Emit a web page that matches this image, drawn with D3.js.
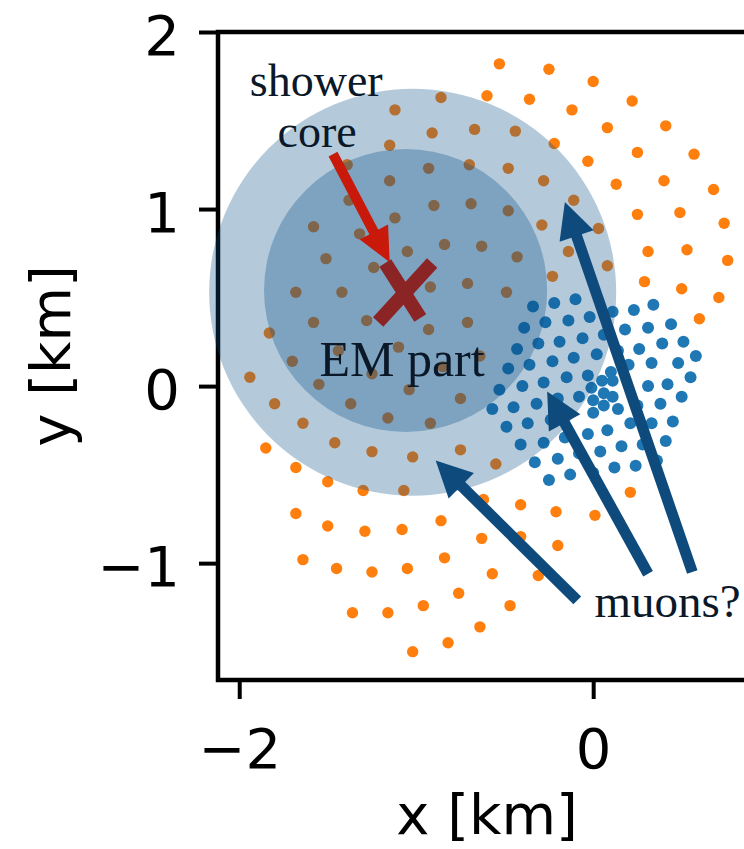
<!DOCTYPE html>
<html>
<head>
<meta charset="utf-8">
<script src="https://cdn.jsdelivr.net/npm/d3@7"></script>
<style>
  html, body { margin: 0; padding: 0; background: #fff; }
  svg { display: block; }
</style>
</head>
<body>
<svg id="chart"></svg>
<script>
// orange stations (x, y in km)
const orangeX = [-0.53,-0.25,0.00,-0.60,-0.86,-0.36,0.22,-1.12,-0.12,-0.67,-0.91,-0.44,0.08,0.41,-1.15,-0.22,0.25,0.57,-1.39,-0.93,-0.70,-0.48,-0.03,-1.15,-0.28,0.13,0.40,0.68,-1.38,-0.90,-0.69,-0.48,-0.11,-1.12,0.25,0.49,0.74,-1.58,-1.32,-0.29,0.03,-0.84,-0.63,-1.05,-0.43,-0.14,0.31,0.53,0.76,-1.51,-1.24,-0.71,-0.49,-0.23,0.08,0.29,0.50,0.71,0.60,-1.68,-1.42,-0.92,-1.58,-1.28,-0.93,-0.71,-1.83,-1.70,-1.44,-1.10,-0.85,-0.64,-1.94,-1.55,-1.25,-1.04,-0.75,-1.80,-1.37,-1.16,-0.92,-1.64,-1.85,-1.46,-1.25,-1.02,-0.75,-0.55,-1.68,-1.50,-1.30,-1.07,-0.62,-0.41,-1.68,-1.50,-1.29,-1.08,-0.86,-0.63,-0.41,-1.64,-1.45,-1.25,-1.05,-0.84,-0.57,-0.31,-1.36,-1.16,-0.96,-0.76,-0.47,-0.64,-0.82,-1.02,0.21,0.01,-0.21,-0.20];
const orangeY = [1.82,1.79,1.72,1.64,1.63,1.62,1.61,1.56,1.56,1.45,1.43,1.44,1.46,1.47,1.36,1.37,1.32,1.31,1.25,1.23,1.25,1.23,1.27,1.16,1.16,1.14,1.16,1.11,1.05,1.02,1.03,0.99,1.05,0.95,0.97,0.98,0.92,0.90,0.86,0.91,0.89,0.80,0.79,0.76,0.73,0.76,0.76,0.77,0.71,0.72,0.67,0.58,0.53,0.62,0.68,0.59,0.55,0.50,0.38,0.53,0.53,0.56,0.36,0.37,0.32,0.36,0.30,0.14,0.20,0.22,0.11,0.17,0.05,0.01,0.07,-0.02,-0.07,-0.10,-0.10,-0.18,-0.21,-0.21,-0.35,-0.32,-0.37,-0.40,-0.36,-0.44,-0.46,-0.54,-0.59,-0.59,-0.64,-0.67,-0.72,-0.79,-0.82,-0.81,-0.76,-0.86,-0.85,-0.98,-1.03,-1.05,-1.03,-0.97,-1.06,-1.07,-1.28,-1.28,-1.24,-1.17,-1.24,-1.36,-1.45,-1.50,-0.60,-0.73,-0.71,-0.90];

// blue stations (x, y in km)
const blueX = [-0.34,-0.22,-0.10,0.11,0.23,0.34,-0.02,-0.14,-0.27,-0.39,0.18,0.31,0.44,0.06,-0.06,-0.19,-0.31,-0.43,0.51,0.39,0.26,0.14,0.02,-0.11,-0.23,-0.36,-0.48,0.58,0.48,0.33,0.20,0.10,-0.03,-0.15,-0.28,-0.40,-0.53,0.55,0.42,0.31,0.05,0.11,-0.01,0.06,0.11,0.00,0.06,0.14,0.00,-0.08,-0.20,-0.32,-0.45,-0.57,0.50,0.38,0.25,0.45,0.33,0.21,0.08,-0.03,-0.16,-0.28,-0.37,-0.49,-0.24,0.41,0.28,0.16,0.04,-0.08,-0.20,-0.41,0.36,0.24,0.12,0.00,-0.13,-0.25,-0.33];
const blueY = [0.45,0.47,0.49,0.42,0.43,0.46,0.39,0.37,0.36,0.33,0.32,0.33,0.35,0.29,0.27,0.25,0.24,0.21,0.25,0.24,0.21,0.20,0.18,0.16,0.14,0.12,0.10,0.17,0.13,0.13,0.12,0.08,0.06,0.05,0.02,0.00,-0.02,0.05,0.01,0.00,0.03,0.03,-0.01,-0.04,-0.06,-0.08,-0.11,-0.13,-0.15,-0.06,-0.07,-0.10,-0.12,-0.13,-0.06,-0.10,-0.11,-0.20,-0.21,-0.21,-0.25,-0.27,-0.29,-0.32,-0.21,-0.23,-0.19,-0.31,-0.33,-0.34,-0.37,-0.38,-0.41,-0.33,-0.42,-0.45,-0.46,-0.49,-0.50,-0.53,-0.43];

const xTicks = [-2, 0];
const yTicks = [-1, 0, 1, 2];

// footprint circles (km)
const footprints = [
  { cx: -1.02, cy: 0.53, r: 1.15, opacity: 0.30 },
  { cx: -1.06, cy: 0.54, r: 0.80, opacity: 0.31 },
];

const muonArrows = [
  { x1: -0.09, y1: -1.21, x2: -0.89, y2: -0.42 },
  { x1: 0.31, y1: -1.06, x2: -0.26, y2: -0.03 },
  { x1: 0.56, y1: -1.05, x2: -0.16, y2: 1.04 },
];
const coreArrow = { x1: -1.47, y1: 1.31, x2: -1.15, y2: 0.70 };
const coreMark = [
  { x1: -1.175, y1: 0.695, x2: -0.977, y2: 0.384 },
  { x1: -0.91, y1: 0.695, x2: -1.215, y2: 0.362 },
];
const notes = [
  { text: "shower", x: -1.565, y: 1.64, size: 46 },
  { text: "core", x: -1.56, y: 1.35, size: 46 },
  { text: "EM part", x: -1.08, y: 0.056, size: 50 },
  { text: "muons?", x: 0.42, y: -1.305, size: 47 },
];

const width = 744;
const height = 849;
const plot = { left: 218, right: 756, top: 32, bottom: 680 };

const svg = d3.select("#chart").attr("width", width).attr("height", height);

const x = d3.scaleLinear().domain([-2.12, 0.92]).range([plot.left, plot.right]);
const y = d3.scaleLinear().domain([-1.66, 2.0]).range([plot.bottom, plot.top]);

const tickFont = "DejaVu Sans, sans-serif";

// axes
const xAxis = d3.axisBottom(x).tickValues(xTicks).tickSize(19).tickPadding(29).tickFormat(d3.format("d"));
const yAxis = d3.axisLeft(y).tickValues(yTicks).tickSize(19).tickPadding(19).tickFormat(d3.format("d"));

const gx = svg.append("g").attr("transform", "translate(0," + plot.bottom + ")").call(xAxis);
const gy = svg.append("g").attr("transform", "translate(" + plot.left + ",0)").call(yAxis);

[gx, gy].forEach((g) => {
  g.select(".domain").remove();
  g.selectAll(".tick line").attr("stroke", "#000").attr("stroke-width", 4);
  g.selectAll(".tick text")
    .attr("fill", "#000")
    .style("font-family", tickFont)
    .style("font-size", "56px");
});
gy.selectAll(".tick text").attr("dy", "0.4em");

// frame
svg
  .append("rect")
  .attr("x", plot.left)
  .attr("y", plot.top)
  .attr("width", plot.right - plot.left)
  .attr("height", plot.bottom - plot.top)
  .attr("fill", "none")
  .attr("stroke", "#000")
  .attr("stroke-width", 4.5);

svg
  .append("text")
  .attr("x", (plot.left + plot.right) / 2)
  .attr("y", 834)
  .attr("text-anchor", "middle")
  .style("font-family", tickFont)
  .style("font-size", "56px")
  .text("x [km]");

svg
  .append("text")
  .attr("transform", "translate(70," + (plot.top + plot.bottom) / 2 + ") rotate(-90)")
  .attr("text-anchor", "middle")
  .style("font-family", tickFont)
  .style("font-size", "56px")
  .text("y [km]");

// stations
const dots = svg.append("g");
dots
  .selectAll(".orange")
  .data(orangeX.map((v, i) => [v, orangeY[i]]))
  .enter()
  .append("circle")
  .attr("class", "orange")
  .attr("cx", (d) => x(d[0]))
  .attr("cy", (d) => y(d[1]))
  .attr("r", 5.7)
  .attr("fill", "#ff7f0e");

dots
  .selectAll(".blue")
  .data(blueX.map((v, i) => [v, blueY[i]]))
  .enter()
  .append("circle")
  .attr("class", "blue")
  .attr("cx", (d) => x(d[0]))
  .attr("cy", (d) => y(d[1]))
  .attr("r", 6)
  .attr("fill", "#1f77b4");

// footprints
const kmPx = x(1) - x(0);
svg
  .selectAll(".foot")
  .data(footprints)
  .enter()
  .append("circle")
  .attr("class", "foot")
  .attr("cx", (d) => x(d.cx))
  .attr("cy", (d) => y(d.cy))
  .attr("r", (d) => d.r * kmPx)
  .attr("fill", "rgb(5,78,135)")
  .attr("fill-opacity", (d) => d.opacity);

// core marker
svg
  .selectAll(".mark")
  .data(coreMark)
  .enter()
  .append("line")
  .attr("x1", (d) => x(d.x1))
  .attr("y1", (d) => y(d.y1))
  .attr("x2", (d) => x(d.x2))
  .attr("y2", (d) => y(d.y2))
  .attr("stroke", "#8b2424")
  .attr("stroke-width", 14);

function drawArrow(a, color, shaftW, headL, headW) {
  const x1 = x(a.x1), y1 = y(a.y1), x2 = x(a.x2), y2 = y(a.y2);
  const len = Math.hypot(x2 - x1, y2 - y1);
  const ux = (x2 - x1) / len, uy = (y2 - y1) / len;
  const bx = x2 - ux * headL, by = y2 - uy * headL;
  svg
    .append("line")
    .attr("x1", x1)
    .attr("y1", y1)
    .attr("x2", bx + ux * 2)
    .attr("y2", by + uy * 2)
    .attr("stroke", color)
    .attr("stroke-width", shaftW);
  svg
    .append("polygon")
    .attr(
      "points",
      [
        [x2, y2],
        [bx - (uy * headW) / 2, by + (ux * headW) / 2],
        [bx + (uy * headW) / 2, by - (ux * headW) / 2],
      ].join(" ")
    )
    .attr("fill", color);
}

drawArrow(coreArrow, "#c8190b", 10, 34, 32);
muonArrows.forEach((a) => drawArrow(a, "#0e4a7c", 11, 36, 36));

svg
  .selectAll(".note")
  .data(notes)
  .enter()
  .append("text")
  .attr("class", "note")
  .attr("x", (d) => x(d.x))
  .attr("y", (d) => y(d.y))
  .attr("text-anchor", "middle")
  .attr("fill", "#0a1828")
  .style("font-family", "Liberation Serif, serif")
  .style("font-size", (d) => d.size + "px")
  .text((d) => d.text);
</script>
</body>
</html>
